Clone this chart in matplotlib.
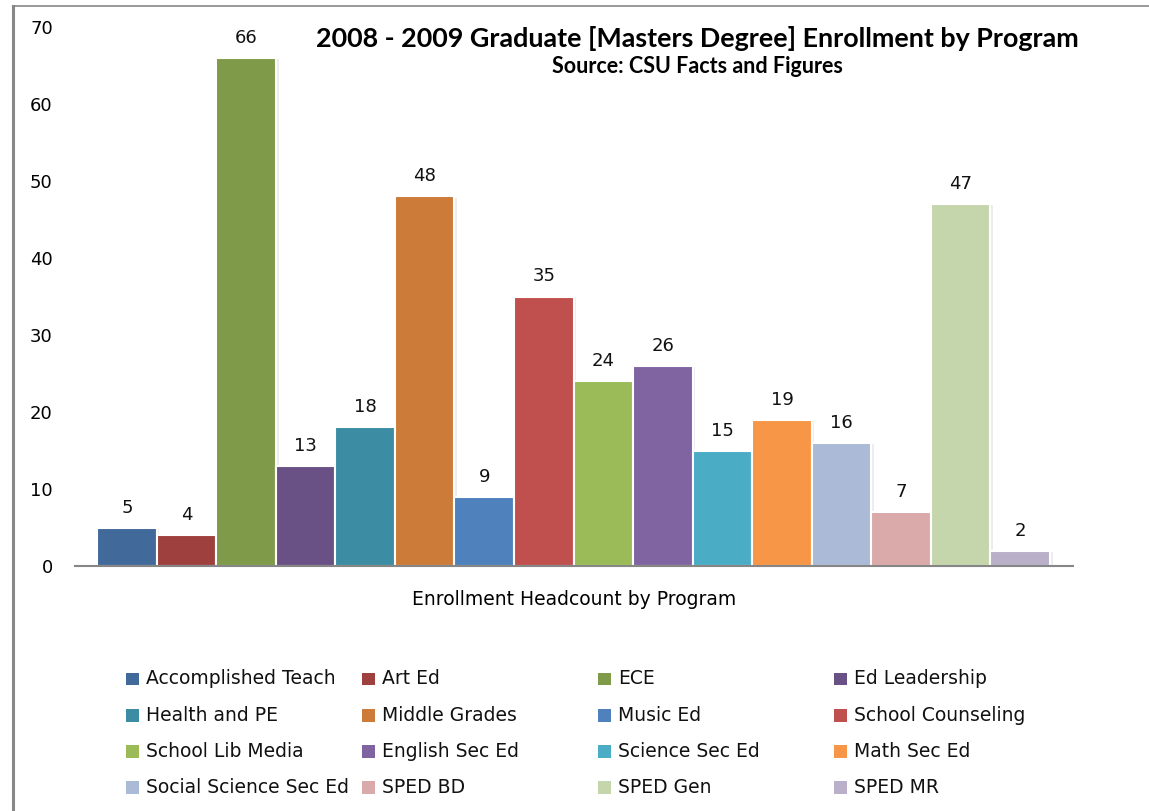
import matplotlib.pyplot as plt
import matplotlib.patheffects as pe
from matplotlib.lines import Line2D
from matplotlib.patches import Rectangle

programs = ['Accomplished Teach', 'Art Ed', 'ECE', 'Ed Leadership',
            'Health and PE', 'Middle Grades', 'Music Ed', 'School Counseling',
            'School Lib Media', 'English Sec Ed', 'Science Sec Ed', 'Math Sec Ed',
            'Social Science Sec Ed', 'SPED BD', 'SPED Gen', 'SPED MR']
headcount = [5, 4, 66, 13, 18, 48, 9, 35, 24, 26, 15, 19, 16, 7, 47, 2]
colors = ['#416A9B', '#9E413E', '#7F9A48', '#695185',
          '#3C8DA3', '#CC7B38', '#4F81BD', '#C0504D',
          '#9BBB59', '#8064A2', '#4BACC6', '#F79646',
          '#AABAD7', '#D9AAA9', '#C6D6AC', '#BAB0C9']
yticks = [0, 10, 20, 30, 40, 50, 60, 70]

fig = plt.figure(figsize=(11.49, 8.11), dpi=100)
ax = fig.add_axes([0.0653, 0.302, 0.8687, 0.6648])

shadow = [pe.SimplePatchShadow(offset=(2, -1), shadow_rgbFace='#cccccc', alpha=0.35), pe.Normal()]
bars = ax.bar(range(len(headcount)), headcount, width=1.0, color=colors,
              edgecolor='white', linewidth=1.5)
for b in bars:
    b.set_path_effects(shadow)

for i, v in enumerate(headcount):
    ax.text(i, v + 2.6, str(v), ha='center', va='center', fontsize=13, color='#111111')

ax.set_xlim(-0.87, 15.89)
ax.set_ylim(0, 70)
ax.set_yticks(yticks)
ax.set_xticks([])
ax.tick_params(axis='y', length=0, pad=16, labelsize=13)
for s in ['top', 'right', 'left']:
    ax.spines[s].set_visible(False)
ax.spines['bottom'].set_color('#868686')
ax.spines['bottom'].set_linewidth(1.5)

fig.text(0.607, 0.952, '2008 - 2009 Graduate [Masters Degree] Enrollment by Program',
         ha='center', va='center', fontsize=19.4, fontweight='bold', family='Lato')
fig.text(0.607, 0.918, 'Source: CSU Facts and Figures',
         ha='center', va='center', fontsize=15.5, fontweight='bold', family='Lato')
fig.text(0.5, 0.261, 'Enrollment Headcount by Program', ha='center', va='center', fontsize=13.5)

# legend, row by row in four columns
for i, name in enumerate(programs):
    row, col = divmod(i, 4)
    x0 = 0.1097 + col * 0.2054
    yc = 1 - (679 + row * 36.3) / 811
    fig.patches.append(Rectangle((x0, yc - 0.008), 0.0113, 0.016, transform=fig.transFigure,
                                 facecolor=colors[i], edgecolor='none'))
    fig.text(x0 + 0.0174, yc, name, ha='left', va='center', fontsize=13.5, color='#111111')

# frame lines at top and left
fig.add_artist(Line2D([0.0113, 1], [0.9926, 0.9926], transform=fig.transFigure, color='#878787', lw=1.2))
fig.add_artist(Line2D([0.0113, 0.0113], [0, 0.9926], transform=fig.transFigure, color='#878787', lw=2.2))

fig.savefig('out.png', dpi=100)
